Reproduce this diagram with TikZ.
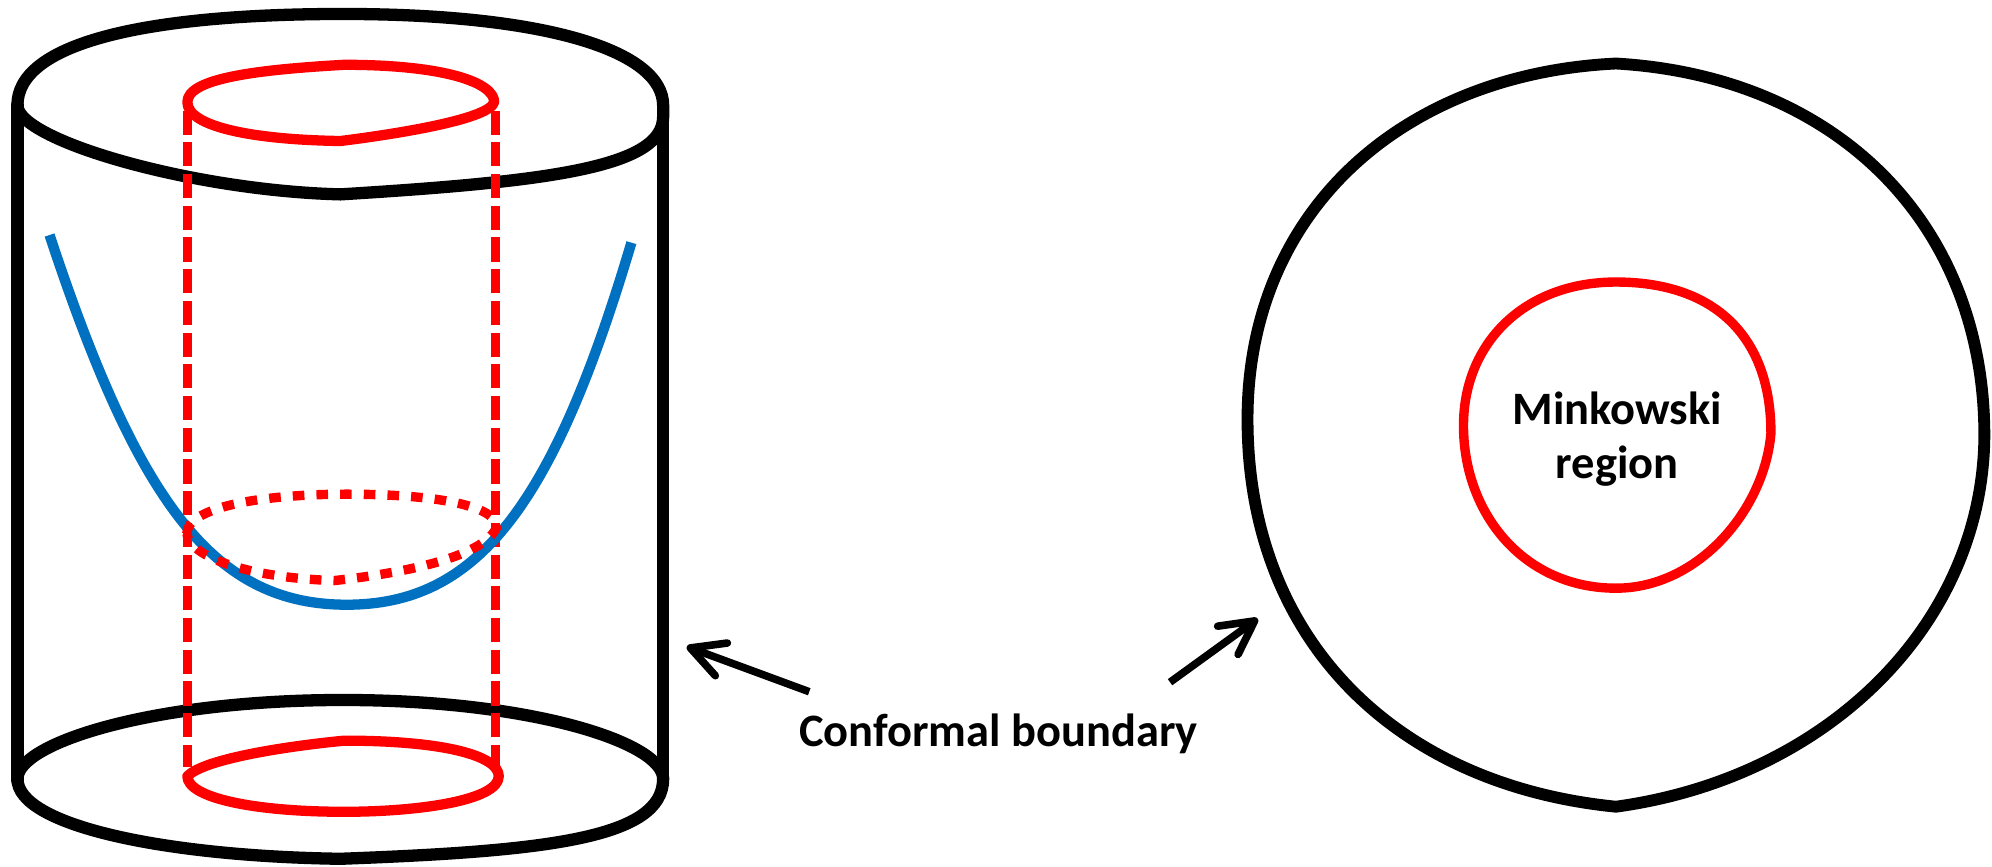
\documentclass[tikz,border=0pt]{standalone}
\usepackage{fontspec}
\setmainfont{Carlito}
\usetikzlibrary{arrows.meta}
\definecolor{sred}{RGB}{255,0,0}
\definecolor{sblue}{RGB}{0,112,192}
\begin{document}
\begin{tikzpicture}[x=0.01cm,y=-0.01cm,
  rim/.style={black, line width=2.75pt, line join=round, line cap=round},
  redring/.style={sred, line width=2.3pt, line join=round, line cap=round},
  reddash/.style={sred, line width=1.9pt, dash pattern=on 5.4pt off 1.7pt},
  reddot/.style={sred, line width=2.1pt, dash pattern=on 2.6pt off 2.7pt},
  surface/.style={sblue, line width=2.3pt},
  pointer/.style={black, line width=1.7pt, -{Straight Barb[round, length=7.4pt, width=7.8pt]}},
  lab/.style={font=\fontsize{10.4}{12.5}\selectfont\bfseries, inner sep=0pt, anchor=base}]
\useasboundingbox (0,0) rectangle (1568,682);

% ---- cylinder ----
% top rim
\draw[rim] (13.7,83) .. controls (13.7,35) and (110,11) .. (270,11)
  .. controls (430,11) and (522,40) .. (522,83) -- (522,92)
  .. controls (522,132) and (430,143) .. (268,153)
  .. controls (150,150) and (13.7,110) .. cycle;
% sides
\draw[rim] (13.7,83) -- (13.7,614);
\draw[rim] (522,83) -- (522,613);
% bottom rim
\draw[rim] (13.7,613) .. controls (13.7,585) and (120,551) .. (270,551)
  .. controls (420,551) and (522,585) .. (522,613)
  .. controls (522,660) and (430,670) .. (268,676)
  .. controls (130,674) and (13.7,650) .. cycle;

% ---- vertical red guides ----
\coordinate (gl1) at (147.5,87);  \coordinate (gl2) at (147.5,604);
\coordinate (gr1) at (390,87);    \coordinate (gr2) at (390,604);
\draw[reddash] (gl1) -- (gl2);
\draw[reddash] (gr1) -- (gr2);

% ---- blue surface ----
\draw[surface] (39,185) .. controls (110,400) and (170,476) .. (273,476)
  .. controls (375,476) and (435,400) .. (497,191);

% ---- dotted red ring on the surface ----
\draw[reddot] (147,420) .. controls (147,400) and (203,389) .. (273,389)
  .. controls (343,389) and (391,398) .. (391,415)
  .. controls (380,440) and (310,452) .. (263,457)
  .. controls (200,455) and (150,440) .. cycle;

% ---- red rings at the two ends ----
\draw[redring] (147.5,80.4) .. controls (147.5,62) and (200,55) .. (271,51)
  .. controls (350,51) and (389,65) .. (389,80.4)
  .. controls (385,95) and (300,107) .. (268,111)
  .. controls (200,110) and (147.5,100) .. cycle;
\draw[redring] (147.5,611) .. controls (160,598) and (220,588) .. (271,583)
  .. controls (350,583) and (392.6,595) .. (392.6,611)
  .. controls (392.6,630) and (330,639) .. (271,639)
  .. controls (200,639) and (147.5,628) .. cycle;

% ---- right diagram ----
\draw[rim, line width=2.65pt] (1272,50) .. controls (1445,60) and (1562,175) .. (1562,343)
  .. controls (1561,490) and (1440,612) .. (1272,635)
  .. controls (1100,618) and (982,505) .. (982,330)
  .. controls (982,165) and (1105,58) .. cycle;
\draw[redring, line width=2.1pt] (1272,222) .. controls (1350,222) and (1394,265) .. (1394,341)
  .. controls (1389,401) and (1337,463) .. (1272,463)
  .. controls (1200,463) and (1152,405) .. (1152,335)
  .. controls (1152,270) and (1200,222) .. cycle;
\node[lab] (mink) at (1273,334) {Minkowski};
\node[lab] (reg) at (1273,377) {region};

% ---- label and pointers ----
\node[lab] (cb) at (786,588) {Conformal boundary};
\coordinate (ltail) at (637,544.5);
\coordinate (ltip) at (540.6,509);
\coordinate (rtail) at (921,537);
\coordinate (rtip) at (990,487);
\draw[pointer] (ltail) -- (ltip);
\draw[pointer] (rtail) -- (rtip);
\end{tikzpicture}
\end{document}
